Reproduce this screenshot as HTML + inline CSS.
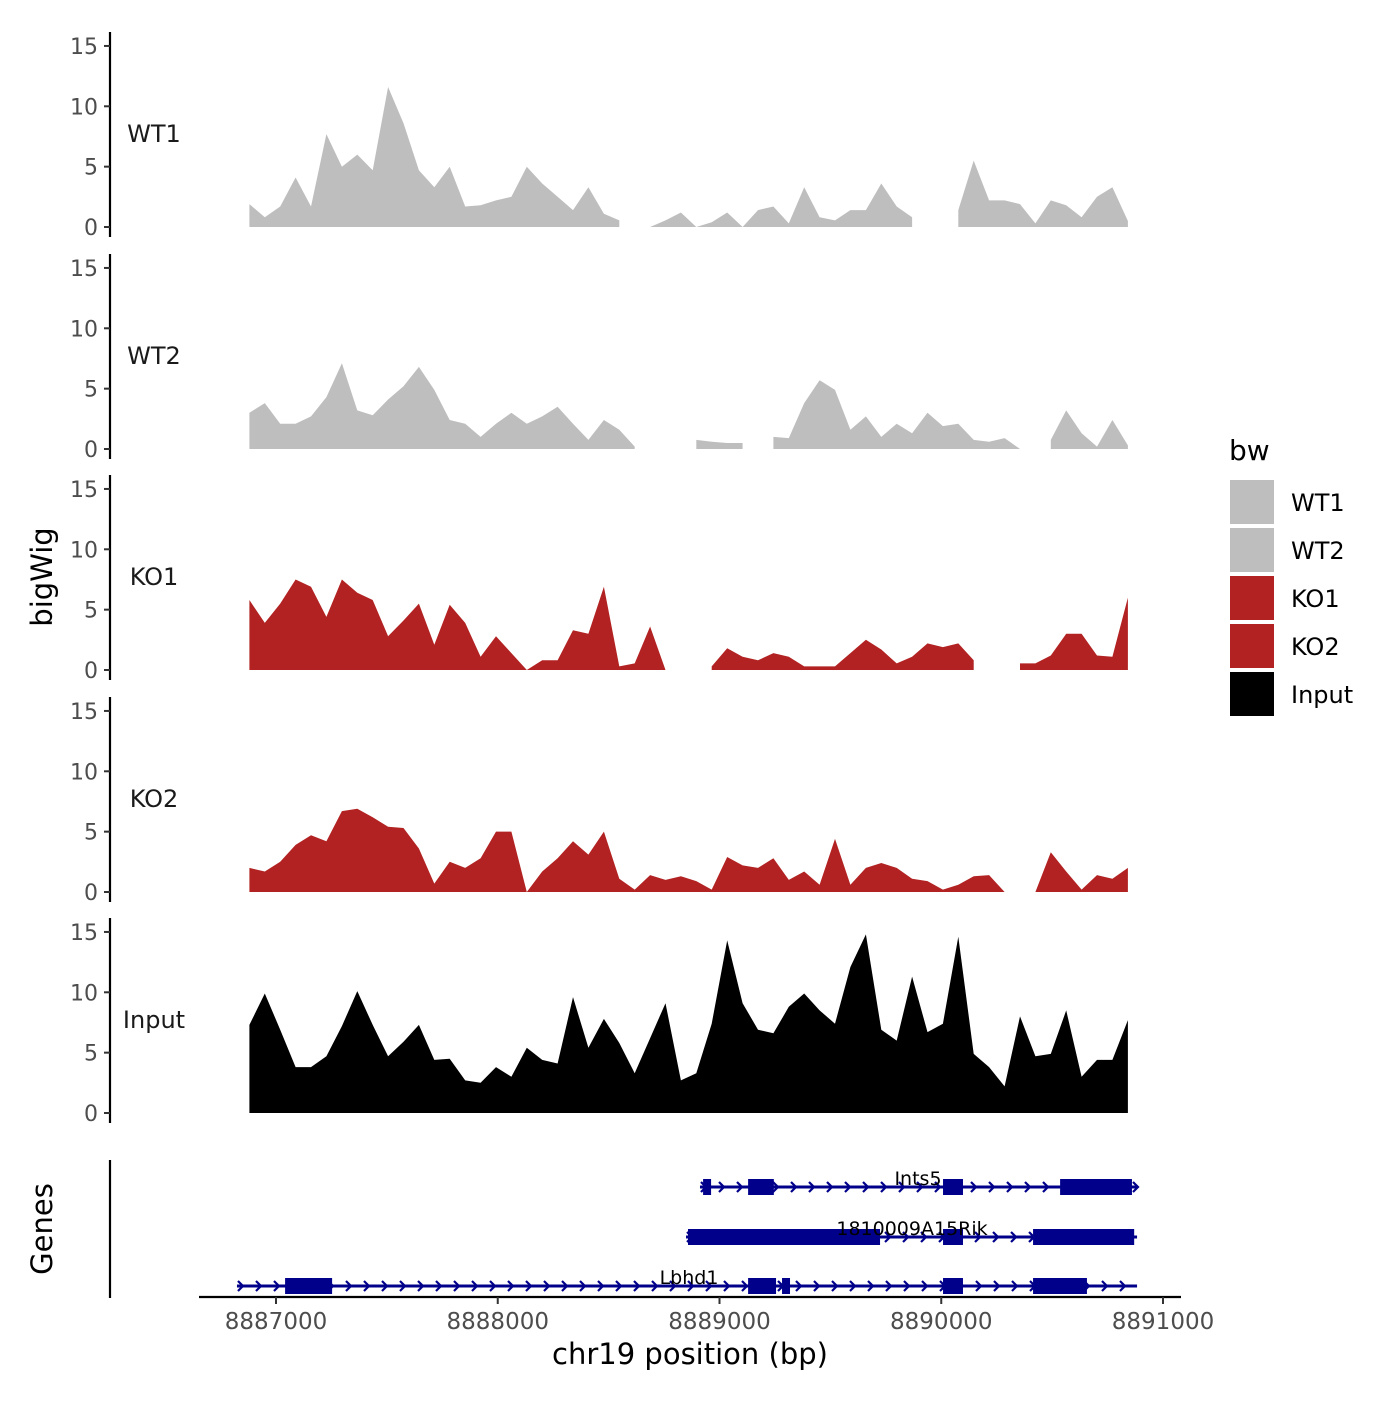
<!DOCTYPE html>
<html><head><meta charset="utf-8"><style>
body{margin:0;background:#fff}
svg text{font-family:"DejaVu Sans","Liberation Sans",sans-serif}
</style></head><body>
<svg id="chart" width="1400" height="1400" viewBox="0 0 1400 1400" xmlns="http://www.w3.org/2000/svg">
<rect width="1400" height="1400" fill="#fff"/>
<g id="tracks"></g>
<g id="genes"></g>
<g id="axes"></g>
<text x="0" y="0" transform="translate(52,577) rotate(-90)" text-anchor="middle" font-size="29" fill="#000">bigWig</text>
<text x="0" y="0" transform="translate(52,1229) rotate(-90)" text-anchor="middle" font-size="29" fill="#000">Genes</text>
<text x="690" y="1364" text-anchor="middle" font-size="29" fill="#000">chr19 position (bp)</text>
<g>
<text x="1229" y="460" font-size="28" fill="#000">bw</text>
<rect x="1230" y="480" width="44" height="44" fill="#bebebe"/>
<rect x="1230" y="528" width="44" height="44" fill="#bebebe"/>
<rect x="1230" y="576" width="44" height="44" fill="#b22222"/>
<rect x="1230" y="624" width="44" height="44" fill="#b22222"/>
<rect x="1230" y="672" width="44" height="44" fill="#000"/>
<text x="1291" y="511" font-size="24">WT1</text>
<text x="1291" y="559" font-size="24">WT2</text>
<text x="1291" y="607" font-size="24">KO1</text>
<text x="1291" y="655" font-size="24">KO2</text>
<text x="1291" y="703" font-size="24">Input</text>
</g>
</svg>
<script>
const gridStart = 8886880;
const gridStep = 69.5;
const seriesNames = ["WT1","WT2","KO1","KO2","Input"];
const wt1Values = [1.9,0.8,1.7,4.1,1.7,7.7,5.0,6.0,4.7,11.6,8.6,4.7,3.3,5.0,1.7,1.8,2.2,2.5,5.0,3.6,2.5,1.4,3.3,1.1,0.55,null,0,0.55,1.2,0,0.4,1.2,0,1.4,1.7,0.3,3.3,0.8,0.55,1.4,1.4,3.6,1.7,0.8,null,null,1.4,5.5,2.2,2.2,1.9,0.3,2.2,1.8,0.8,2.5,3.3,0.5];
const wt2Values = [3.0,3.8,2.1,2.1,2.7,4.3,7.1,3.2,2.8,4.1,5.2,6.8,4.9,2.4,2.1,1.0,2.1,3.0,2.1,2.7,3.5,2.1,0.75,2.4,1.6,0.2,null,null,null,0.75,0.6,0.5,0.5,null,1.0,0.9,3.8,5.7,4.9,1.6,2.7,1.0,2.1,1.3,3.0,1.9,2.1,0.75,0.6,0.9,0,null,0.75,3.2,1.3,0.2,2.4,0.3];
const ko1Values = [5.8,3.9,5.5,7.5,6.9,4.4,7.5,6.4,5.8,2.8,4.1,5.5,2.1,5.4,3.9,1.1,2.8,1.4,0,0.8,0.8,3.3,3.0,6.9,0.3,0.55,3.6,0,null,null,0.3,1.8,1.1,0.8,1.4,1.1,0.3,0.3,0.3,1.4,2.5,1.7,0.55,1.1,2.2,1.9,2.2,0.8,null,null,0.55,0.55,1.2,3.0,3.0,1.2,1.1,6.0];
const ko2Values = [2.0,1.7,2.5,3.9,4.7,4.2,6.7,6.9,6.2,5.4,5.3,3.6,0.7,2.5,2.0,2.8,5.0,5.0,0,1.7,2.8,4.2,3.1,5.0,1.1,0.2,1.4,1.0,1.3,0.9,0.2,2.9,2.2,2.0,2.8,1.0,1.7,0.6,4.4,0.6,2.0,2.4,2.0,1.1,0.9,0.2,0.6,1.3,1.4,0,null,0,3.3,1.7,0.2,1.4,1.1,2.0];
const inputValues = [7.3,9.9,6.9,3.8,3.8,4.7,7.2,10.1,7.3,4.7,5.9,7.3,4.4,4.5,2.7,2.5,3.8,3.0,5.4,4.4,4.1,9.6,5.4,7.8,5.8,3.3,6.2,9.1,2.7,3.3,7.4,14.3,9.1,6.9,6.6,8.8,9.9,8.5,7.4,12.1,14.8,6.9,6.0,11.3,6.7,7.4,14.6,4.9,3.8,2.2,8.0,4.7,4.9,8.5,3.0,4.4,4.4,7.7];
const yTicks = [0,5,10,15];
const xTicks = [8887000,8888000,8889000,8890000,8891000];
const xTickLabels = ["8887000","8888000","8889000","8890000","8891000"];
const geneNames = ["Ints5","1810009A15Rik","Lbhd1"];
const geneStarts = [8888912,8888849,8886824];
const geneEnds = [8890883,8890883,8890883];
const ints5Exons = [[8888926,8888962],[8889129,8889245],[8890008,8890098],[8890536,8890860]];
const rikExons = [[8888858,8889724],[8890008,8890098],[8890414,8890870]];
const lbhd1Exons = [[8887041,8887253],[8889129,8889255],[8889282,8889318],[8890008,8890098],[8890414,8890657]];

const NS="http://www.w3.org/2000/svg";
const colors=["#bebebe","#bebebe","#b22222","#b22222","#000000"];
const allValues=[wt1Values,wt2Values,ko1Values,ko2Values,inputValues];
const panelBase=[227,449,670,892,1113];
const pxPerUnit=12.07;
function xScale(bp){return 276+(bp-8887000)*0.22175;}
function yScale(v,p){return panelBase[p]-v*pxPerUnit;}
function mk(tag,attrs,parent){const e=document.createElementNS(NS,tag);for(const k in attrs)e.setAttribute(k,attrs[k]);parent.appendChild(e);return e;}
const tracks=document.getElementById('tracks');
const axes=document.getElementById('axes');
allValues.forEach((vals,p)=>{
  const g=mk('g',{},tracks);
  
  
  let run=[];
  const flush=()=>{
    if(run.length>1){
      let d='M'+xScale(run[0][0]).toFixed(1)+','+panelBase[p];
      run.forEach(r=>{d+='L'+xScale(r[0]).toFixed(1)+','+yScale(r[1],p).toFixed(1);});
      d+='L'+xScale(run[run.length-1][0]).toFixed(1)+','+panelBase[p]+'Z';
      const a=mk('path',{d:d,fill:colors[p]},g);
      
      
    }
    run=[];
  };
  vals.forEach((v,i)=>{if(v===null)flush();else run.push([gridStart+i*gridStep,v]);});
  flush();
  const top=yScale(15,p)-14, bot=panelBase[p]+10;
  const ax=mk('line',{x1:110,x2:110,y1:top,y2:bot,stroke:'#000','stroke-width':2.2},axes);
  
  
  yTicks.forEach(t=>{
    const y=yScale(t,p);
    mk('line',{x1:104,x2:110,y1:y,y2:y,stroke:'#333','stroke-width':2},axes);
    const tx=mk('text',{x:98,y:y+8,'text-anchor':'end','font-size':22,fill:'#4d4d4d'},axes);
    tx.textContent=t;
    
    
  });
  const lb=mk('text',{x:154,y:panelBase[p]-85,'text-anchor':'middle','font-size':24,fill:'#1a1a1a'},axes);
  lb.textContent=seriesNames[p];
  
  
});
const genes=document.getElementById('genes');
const geneY=[1187,1237,1286];
const geneExons=[ints5Exons,rikExons,lbhd1Exons];
const labelX=[918,912,689];
const blue="#00008b";
geneNames.forEach((n,k)=>{
  const g=mk('g',{},genes);
  
  
  const y=geneY[k], x0=xScale(geneStarts[k]), x1=xScale(geneEnds[k]);
  mk('line',{x1:x0,x2:x1,y1:y,y2:y,stroke:blue,'stroke-width':3},g);
  for(let x=x0+4;x<=x1;x+=18){
    mk('path',{d:`M${x-3},${y-5}L${x+2},${y}L${x-3},${y+5}`,fill:'none',stroke:blue,'stroke-width':2.2},g);
  }
  geneExons[k].forEach(e=>{
    const r=mk('rect',{x:xScale(e[0]),y:y-8,width:xScale(e[1])-xScale(e[0]),height:16,fill:blue},g);
    
    
  });
  const t=mk('text',{x:labelX[k],y:y-2,'text-anchor':'middle','font-size':19,fill:'#000'},g);
  t.textContent=n;
});
const ga=mk('line',{x1:110,x2:110,y1:1160,y2:1298,stroke:'#000','stroke-width':2.2},axes);


const xa=mk('line',{x1:199,x2:1181,y1:1297,y2:1297,stroke:'#000','stroke-width':2.2},axes);


xTicks.forEach((t,i)=>{
  const x=xScale(t);
  mk('line',{x1:x,x2:x,y1:1297,y2:1304,stroke:'#333','stroke-width':2},axes);
  const tx=mk('text',{x:x,y:1329,'text-anchor':'middle','font-size':23,fill:'#4d4d4d'},axes);
  tx.textContent=xTickLabels[i];
  
  
});
</script>
</body></html>
